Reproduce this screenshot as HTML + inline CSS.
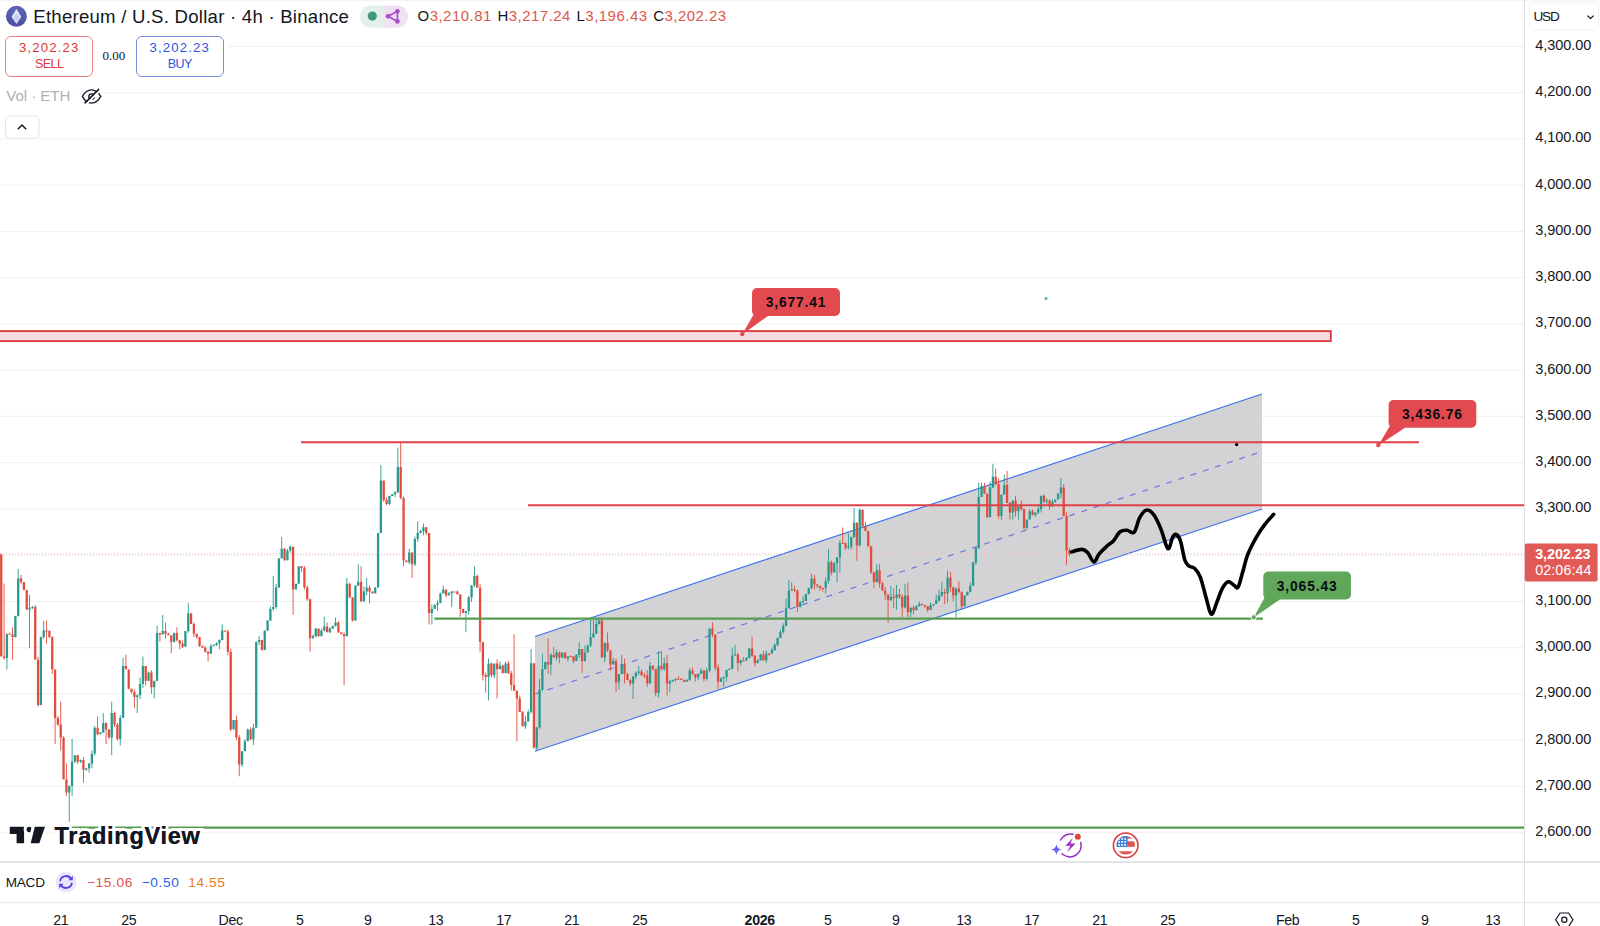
<!DOCTYPE html>
<html><head><meta charset="utf-8"><title>ETHUSD</title>
<style>
html,body{margin:0;padding:0;background:#fff;}
body{width:1600px;height:926px;position:relative;overflow:hidden;font-family:"Liberation Sans",sans-serif;color:#131722;}
svg{position:absolute;left:0;top:0;}
.abs{position:absolute;white-space:nowrap;}
.pl{position:absolute;left:1535.3px;font-size:14.5px;line-height:16px;letter-spacing:-0.05px;color:#131722;white-space:nowrap;}
.tl{position:absolute;top:911.6px;width:60px;text-align:center;font-size:14.2px;line-height:16px;letter-spacing:-0.35px;color:#131722;white-space:nowrap;}
.btn{position:absolute;top:35.5px;height:39px;width:86px;border-radius:6px;box-sizing:content-box;background:#fff;text-align:center;}
.btn .p{position:absolute;left:0;right:0;top:3.3px;font-size:13.2px;line-height:16px;letter-spacing:1.15px;}
.btn .s{position:absolute;left:0;right:0;top:19.8px;font-size:12.6px;line-height:16px;letter-spacing:-0.55px;}
.lbl{position:absolute;font-size:13.8px;font-weight:bold;line-height:16px;letter-spacing:0.88px;color:#0b0d12;text-align:center;white-space:nowrap;}
</style></head><body>
<svg width="1600" height="926" viewBox="0 0 1600 926">
<rect width="1600" height="926" fill="#fff"/><rect width="1600" height="1.3" fill="#f5f5f6"/>
<rect x="0" y="45.90" width="1524" height="1" fill="#f1f2f4"/><rect x="0" y="92.15" width="1524" height="1" fill="#f1f2f4"/><rect x="0" y="138.40" width="1524" height="1" fill="#f1f2f4"/><rect x="0" y="184.65" width="1524" height="1" fill="#f1f2f4"/><rect x="0" y="230.90" width="1524" height="1" fill="#f1f2f4"/><rect x="0" y="277.15" width="1524" height="1" fill="#f1f2f4"/><rect x="0" y="323.40" width="1524" height="1" fill="#f1f2f4"/><rect x="0" y="369.65" width="1524" height="1" fill="#f1f2f4"/><rect x="0" y="415.90" width="1524" height="1" fill="#f1f2f4"/><rect x="0" y="462.15" width="1524" height="1" fill="#f1f2f4"/><rect x="0" y="508.40" width="1524" height="1" fill="#f1f2f4"/><rect x="0" y="554.65" width="1524" height="1" fill="#f1f2f4"/><rect x="0" y="600.90" width="1524" height="1" fill="#f1f2f4"/><rect x="0" y="647.15" width="1524" height="1" fill="#f1f2f4"/><rect x="0" y="693.40" width="1524" height="1" fill="#f1f2f4"/><rect x="0" y="739.65" width="1524" height="1" fill="#f1f2f4"/><rect x="0" y="785.90" width="1524" height="1" fill="#f1f2f4"/><rect x="0" y="832.15" width="1524" height="1" fill="#f1f2f4"/>
<!-- channel -->
<polygon points="535,636.5 1262,394 1262,509 535,751.2" fill="#d3d3d4"/>
<g opacity="0.3"><rect x="0" y="45.90" width="1524" height="1" fill="#f1f2f4"/><rect x="0" y="92.15" width="1524" height="1" fill="#f1f2f4"/><rect x="0" y="138.40" width="1524" height="1" fill="#f1f2f4"/><rect x="0" y="184.65" width="1524" height="1" fill="#f1f2f4"/><rect x="0" y="230.90" width="1524" height="1" fill="#f1f2f4"/><rect x="0" y="277.15" width="1524" height="1" fill="#f1f2f4"/><rect x="0" y="323.40" width="1524" height="1" fill="#f1f2f4"/><rect x="0" y="369.65" width="1524" height="1" fill="#f1f2f4"/><rect x="0" y="415.90" width="1524" height="1" fill="#f1f2f4"/><rect x="0" y="462.15" width="1524" height="1" fill="#f1f2f4"/><rect x="0" y="508.40" width="1524" height="1" fill="#f1f2f4"/><rect x="0" y="554.65" width="1524" height="1" fill="#f1f2f4"/><rect x="0" y="600.90" width="1524" height="1" fill="#f1f2f4"/><rect x="0" y="647.15" width="1524" height="1" fill="#f1f2f4"/><rect x="0" y="693.40" width="1524" height="1" fill="#f1f2f4"/><rect x="0" y="739.65" width="1524" height="1" fill="#f1f2f4"/><rect x="0" y="785.90" width="1524" height="1" fill="#f1f2f4"/><rect x="0" y="832.15" width="1524" height="1" fill="#f1f2f4"/></g>
<polygon points="535,636.5 1262,394 1262,509 535,751.2" fill="#d3d3d4" opacity="0.8"/>
<line x1="535" y1="694" x2="1262" y2="451.5" stroke="#7479e4" stroke-width="1.25" stroke-dasharray="6 6.8"/>
<line x1="535" y1="636.5" x2="1262" y2="394" stroke="#3f74e8" stroke-width="1.2"/>
<line x1="535" y1="751.2" x2="1262" y2="509" stroke="#3f74e8" stroke-width="1.2"/>
<!-- current price dotted -->
<line x1="0" y1="553.7" x2="1524" y2="553.7" stroke="#f0b3ae" stroke-width="1" stroke-dasharray="1 2"/>
<path fill="#28998d" d="M6.45 633.7h.9V669.4h-.9ZM5.75 633.7h2.3v24.3h-2.3ZM14.95 615.7h.9V637.5h-.9ZM14.25 615.9h2.3v21.1h-2.3ZM17.78 568.9h.9V616.5h-.9ZM17.08 578.6h2.3v37.3h-2.3ZM29.12 594.8h.9V648.3h-.9ZM28.42 607.8h2.3v1.6h-2.3ZM31.95 605.9h.9V608.9h-.9ZM31.25 607.1h2.3v1.0h-2.3ZM40.45 636.7h.9V705.5h-.9ZM39.75 637.0h2.3v68.1h-2.3ZM43.28 620.8h.9V638.7h-.9ZM42.58 630.5h2.3v6.5h-2.3ZM68.78 785.6h.9V821.7h-.9ZM68.08 786.1h2.3v6.5h-2.3ZM71.62 739.1h.9V795.8h-.9ZM70.92 761.8h2.3v24.3h-2.3ZM74.45 755.0h.9V763.0h-.9ZM73.75 755.3h2.3v6.5h-2.3ZM80.12 759.5h.9V763.0h-.9ZM79.42 760.1h2.3v1.6h-2.3ZM85.78 768.2h.9V770.8h-.9ZM85.08 768.2h2.3v1.6h-2.3ZM88.62 763.0h.9V772.5h-.9ZM87.92 763.4h2.3v4.9h-2.3ZM91.45 750.2h.9V768.3h-.9ZM90.75 753.7h2.3v9.7h-2.3ZM94.28 726.3h.9V755.7h-.9ZM93.58 727.7h2.3v25.9h-2.3ZM99.95 732.1h.9V734.2h-.9ZM99.25 732.6h2.3v1.6h-2.3ZM102.78 713.1h.9V732.9h-.9ZM102.08 722.9h2.3v9.7h-2.3ZM111.28 701.8h.9V755.3h-.9ZM110.58 713.1h2.3v24.3h-2.3ZM119.78 715.1h.9V745.6h-.9ZM119.08 718.0h2.3v21.1h-2.3ZM122.62 658.0h.9V718.1h-.9ZM121.92 666.1h2.3v51.9h-2.3ZM136.78 694.6h.9V713.1h-.9ZM136.08 695.3h2.3v1.6h-2.3ZM139.62 677.5h.9V699.1h-.9ZM138.92 684.0h2.3v11.3h-2.3ZM142.45 656.4h.9V688.0h-.9ZM141.75 666.1h2.3v17.8h-2.3ZM148.12 671.4h.9V681.0h-.9ZM147.42 672.6h2.3v8.1h-2.3ZM153.78 680.7h.9V698.6h-.9ZM153.08 680.7h2.3v6.5h-2.3ZM156.62 625.6h.9V681.2h-.9ZM155.92 633.1h2.3v47.6h-2.3ZM162.28 614.9h.9V634.4h-.9ZM161.58 631.1h2.3v3.2h-2.3ZM173.62 632.5h.9V642.5h-.9ZM172.92 633.1h2.3v8.8h-2.3ZM184.95 631.0h.9V646.7h-.9ZM184.25 631.1h2.3v15.6h-2.3ZM187.78 602.9h.9V632.7h-.9ZM187.08 613.6h2.3v17.5h-2.3ZM210.45 643.7h.9V653.9h-.9ZM209.75 646.0h2.3v7.8h-2.3ZM213.28 644.1h.9V646.0h-.9ZM212.58 645.2h2.3v1.0h-2.3ZM216.12 642.3h.9V645.9h-.9ZM215.42 643.2h2.3v2.0h-2.3ZM218.95 639.2h.9V649.2h-.9ZM218.25 640.1h2.3v3.1h-2.3ZM221.78 624.6h.9V640.3h-.9ZM221.08 630.4h2.3v9.7h-2.3ZM233.12 719.9h.9V729.6h-.9ZM232.42 719.9h2.3v9.7h-2.3ZM241.62 751.1h.9V767.0h-.9ZM240.92 751.2h2.3v13.4h-2.3ZM244.45 739.1h.9V751.2h-.9ZM243.75 741.3h2.3v10.0h-2.3ZM247.28 728.6h.9V741.3h-.9ZM246.58 729.6h2.3v11.7h-2.3ZM252.95 723.7h.9V745.0h-.9ZM252.25 727.7h2.3v11.7h-2.3ZM255.78 641.5h.9V727.7h-.9ZM255.08 642.1h2.3v85.6h-2.3ZM258.62 636.2h.9V645.1h-.9ZM257.92 640.1h2.3v1.9h-2.3ZM264.28 630.4h.9V650.1h-.9ZM263.58 630.4h2.3v19.5h-2.3ZM267.12 619.9h.9V630.9h-.9ZM266.42 620.7h2.3v9.7h-2.3ZM269.95 606.5h.9V620.7h-.9ZM269.25 609.0h2.3v11.7h-2.3ZM272.78 575.9h.9V610.8h-.9ZM272.08 607.0h2.3v1.9h-2.3ZM275.62 584.1h.9V608.7h-.9ZM274.92 587.6h2.3v19.5h-2.3ZM278.45 557.9h.9V588.1h-.9ZM277.75 558.4h2.3v29.2h-2.3ZM281.28 537.0h.9V558.4h-.9ZM280.58 548.7h2.3v9.7h-2.3ZM286.95 548.8h.9V560.4h-.9ZM286.25 550.6h2.3v9.7h-2.3ZM289.78 545.4h.9V552.8h-.9ZM289.08 546.7h2.3v3.9h-2.3ZM295.45 583.7h.9V589.6h-.9ZM294.75 583.7h2.3v5.8h-2.3ZM298.28 566.2h.9V583.8h-.9ZM297.58 566.2h2.3v17.5h-2.3ZM312.45 634.4h.9V639.0h-.9ZM311.75 636.2h2.3v1.9h-2.3ZM315.28 628.0h.9V637.6h-.9ZM314.58 628.4h2.3v7.8h-2.3ZM320.95 628.6h.9V636.2h-.9ZM320.25 630.4h2.3v5.8h-2.3ZM323.78 616.8h.9V631.3h-.9ZM323.08 626.5h2.3v3.9h-2.3ZM329.45 627.5h.9V633.1h-.9ZM328.75 628.4h2.3v3.9h-2.3ZM332.28 625.7h.9V628.9h-.9ZM331.58 625.7h2.3v2.8h-2.3ZM335.12 617.6h.9V626.4h-.9ZM334.42 622.6h2.3v3.1h-2.3ZM346.45 577.9h.9V636.3h-.9ZM345.75 583.7h2.3v52.5h-2.3ZM354.95 585.6h.9V620.7h-.9ZM354.25 585.6h2.3v35.0h-2.3ZM357.78 564.2h.9V585.9h-.9ZM357.08 581.8h2.3v3.9h-2.3ZM363.45 586.6h.9V602.0h-.9ZM362.75 591.5h2.3v9.7h-2.3ZM366.28 577.9h.9V595.2h-.9ZM365.58 587.6h2.3v3.9h-2.3ZM374.78 587.2h.9V593.4h-.9ZM374.08 587.6h2.3v5.8h-2.3ZM377.62 533.1h.9V587.8h-.9ZM376.92 533.1h2.3v54.5h-2.3ZM380.45 465.0h.9V533.2h-.9ZM379.75 480.6h2.3v52.5h-2.3ZM388.95 496.1h.9V504.9h-.9ZM388.25 496.1h2.3v7.8h-2.3ZM391.78 493.9h.9V496.3h-.9ZM391.08 494.2h2.3v1.9h-2.3ZM394.62 491.0h.9V497.2h-.9ZM393.92 492.3h2.3v1.9h-2.3ZM397.45 447.5h.9V493.1h-.9ZM396.75 467.0h2.3v25.3h-2.3ZM408.78 548.7h.9V564.2h-.9ZM408.08 552.6h2.3v9.7h-2.3ZM414.45 536.4h.9V565.9h-.9ZM413.75 538.9h2.3v25.3h-2.3ZM417.28 521.4h.9V541.9h-.9ZM416.58 533.1h2.3v5.8h-2.3ZM420.12 529.8h.9V533.5h-.9ZM419.42 531.2h2.3v1.9h-2.3ZM422.95 523.4h.9V535.5h-.9ZM422.25 527.3h2.3v3.9h-2.3ZM431.45 604.5h.9V624.6h-.9ZM430.75 609.0h2.3v3.9h-2.3ZM434.28 604.2h.9V609.0h-.9ZM433.58 605.1h2.3v3.9h-2.3ZM437.12 600.5h.9V610.9h-.9ZM436.42 603.2h2.3v1.9h-2.3ZM439.95 592.5h.9V603.2h-.9ZM439.25 593.4h2.3v9.7h-2.3ZM442.78 585.6h.9V593.6h-.9ZM442.08 589.5h2.3v3.9h-2.3ZM448.45 592.1h.9V595.4h-.9ZM447.75 593.4h2.3v1.9h-2.3ZM451.28 591.0h.9V607.0h-.9ZM450.58 591.5h2.3v1.9h-2.3ZM465.45 610.9h.9V632.3h-.9ZM464.75 610.9h2.3v1.9h-2.3ZM468.28 595.9h.9V614.8h-.9ZM467.58 597.3h2.3v13.6h-2.3ZM471.12 585.0h.9V602.0h-.9ZM470.42 585.6h2.3v11.7h-2.3ZM473.95 566.2h.9V587.2h-.9ZM473.25 575.9h2.3v9.7h-2.3ZM488.12 658.6h.9V700.4h-.9ZM487.42 663.5h2.3v13.6h-2.3ZM493.78 663.5h.9V678.3h-.9ZM493.08 663.5h2.3v11.7h-2.3ZM499.45 661.6h.9V669.3h-.9ZM498.75 665.4h2.3v3.9h-2.3ZM505.12 661.8h.9V673.3h-.9ZM504.42 663.5h2.3v9.7h-2.3ZM524.95 715.7h.9V728.8h-.9ZM524.25 721.5h2.3v4.8h-2.3ZM527.78 709.6h.9V721.5h-.9ZM527.08 712.0h2.3v9.5h-2.3ZM530.62 649.1h.9V713.7h-.9ZM529.92 663.3h2.3v48.7h-2.3ZM536.28 726.9h.9V750.0h-.9ZM535.58 727.5h2.3v20.2h-2.3ZM539.12 678.8h.9V728.8h-.9ZM538.42 689.5h2.3v38.0h-2.3ZM541.95 653.8h.9V691.3h-.9ZM541.25 669.3h2.3v20.2h-2.3ZM544.78 661.6h.9V669.4h-.9ZM544.08 662.1h2.3v7.1h-2.3ZM550.45 653.1h.9V675.2h-.9ZM549.75 655.0h2.3v9.5h-2.3ZM556.12 649.7h.9V660.5h-.9ZM555.42 652.6h2.3v4.8h-2.3ZM561.78 652.6h.9V658.2h-.9ZM561.08 652.6h2.3v4.8h-2.3ZM567.45 656.2h.9V661.6h-.9ZM566.75 656.2h2.3v2.4h-2.3ZM575.95 654.0h.9V661.2h-.9ZM575.25 655.0h2.3v5.9h-2.3ZM578.78 641.9h.9V658.1h-.9ZM578.08 649.1h2.3v5.9h-2.3ZM584.45 645.5h.9V661.4h-.9ZM583.75 652.6h2.3v8.3h-2.3ZM587.28 644.3h.9V652.6h-.9ZM586.58 645.5h2.3v7.1h-2.3ZM590.12 619.4h.9V647.6h-.9ZM589.42 637.2h2.3v8.3h-2.3ZM592.95 619.4h.9V638.1h-.9ZM592.25 633.6h2.3v3.6h-2.3ZM595.78 619.4h.9V634.1h-.9ZM595.08 624.1h2.3v9.5h-2.3ZM598.62 619.6h.9V624.1h-.9ZM597.92 620.6h2.3v3.6h-2.3ZM604.28 642.4h.9V662.1h-.9ZM603.58 643.1h2.3v14.3h-2.3ZM612.78 658.0h.9V664.8h-.9ZM612.08 661.0h2.3v3.6h-2.3ZM618.45 674.0h.9V689.5h-.9ZM617.75 674.0h2.3v8.3h-2.3ZM621.28 655.0h.9V674.0h-.9ZM620.58 664.5h2.3v9.5h-2.3ZM632.62 676.0h.9V699.0h-.9ZM631.92 676.4h2.3v7.1h-2.3ZM635.45 671.3h.9V679.0h-.9ZM634.75 672.8h2.3v3.6h-2.3ZM638.28 665.7h.9V675.2h-.9ZM637.58 671.6h2.3v1.2h-2.3ZM649.62 662.1h.9V683.7h-.9ZM648.92 665.7h2.3v17.8h-2.3ZM658.12 651.4h.9V697.4h-.9ZM657.42 665.7h2.3v27.3h-2.3ZM663.78 657.4h.9V670.7h-.9ZM663.08 663.3h2.3v5.9h-2.3ZM669.45 679.5h.9V691.8h-.9ZM668.75 681.1h2.3v2.4h-2.3ZM672.28 679.6h.9V682.1h-.9ZM671.58 680.0h2.3v1.2h-2.3ZM675.12 678.3h.9V681.6h-.9ZM674.42 678.8h2.3v1.2h-2.3ZM686.45 679.1h.9V681.6h-.9ZM685.75 680.0h2.3v1.7h-2.3ZM689.28 668.1h.9V681.1h-.9ZM688.58 670.5h2.3v9.5h-2.3ZM697.78 673.3h.9V680.1h-.9ZM697.08 674.0h2.3v3.6h-2.3ZM700.62 668.1h.9V674.1h-.9ZM699.92 670.5h2.3v3.6h-2.3ZM706.28 668.1h.9V680.5h-.9ZM705.58 670.5h2.3v8.3h-2.3ZM709.12 628.5h.9V672.6h-.9ZM708.42 628.5h2.3v42.0h-2.3ZM720.45 677.6h.9V681.9h-.9ZM719.75 678.3h2.3v3.6h-2.3ZM723.28 676.6h.9V686.7h-.9ZM722.58 677.1h2.3v1.2h-2.3ZM726.12 669.4h.9V681.4h-.9ZM725.42 670.0h2.3v7.1h-2.3ZM728.95 668.6h.9V670.0h-.9ZM728.25 668.8h2.3v1.2h-2.3ZM731.78 647.5h.9V669.1h-.9ZM731.08 655.8h2.3v13.1h-2.3ZM734.62 645.1h.9V655.8h-.9ZM733.92 654.6h2.3v1.2h-2.3ZM740.28 659.0h.9V665.5h-.9ZM739.58 660.5h2.3v2.4h-2.3ZM745.95 657.1h.9V661.3h-.9ZM745.25 658.1h2.3v2.4h-2.3ZM748.78 648.2h.9V658.2h-.9ZM748.08 648.6h2.3v9.5h-2.3ZM757.28 659.2h.9V663.4h-.9ZM756.58 660.5h2.3v2.4h-2.3ZM760.12 654.0h.9V660.5h-.9ZM759.42 654.6h2.3v5.9h-2.3ZM765.78 650.7h.9V663.0h-.9ZM765.08 653.4h2.3v7.1h-2.3ZM771.45 647.5h.9V653.9h-.9ZM770.75 649.8h2.3v3.6h-2.3ZM774.28 643.1h.9V650.9h-.9ZM773.58 645.1h2.3v4.8h-2.3ZM777.12 637.4h.9V646.6h-.9ZM776.42 638.0h2.3v7.1h-2.3ZM779.95 629.6h.9V638.2h-.9ZM779.25 632.0h2.3v5.9h-2.3ZM782.78 623.2h.9V633.6h-.9ZM782.08 626.1h2.3v5.9h-2.3ZM785.62 598.8h.9V626.3h-.9ZM784.92 608.3h2.3v17.8h-2.3ZM788.45 579.8h.9V608.5h-.9ZM787.75 590.5h2.3v17.8h-2.3ZM791.28 582.1h.9V590.7h-.9ZM790.58 589.3h2.3v1.2h-2.3ZM799.78 601.1h.9V607.4h-.9ZM799.08 602.3h2.3v4.8h-2.3ZM802.62 596.4h.9V602.9h-.9ZM801.92 601.1h2.3v1.2h-2.3ZM805.45 593.9h.9V601.1h-.9ZM804.75 594.0h2.3v7.1h-2.3ZM808.28 587.7h.9V594.4h-.9ZM807.58 588.1h2.3v5.9h-2.3ZM811.12 573.8h.9V589.4h-.9ZM810.42 578.6h2.3v9.5h-2.3ZM825.28 577.4h.9V593.7h-.9ZM824.58 581.0h2.3v7.1h-2.3ZM828.12 548.9h.9V583.8h-.9ZM827.42 561.9h2.3v19.0h-2.3ZM833.78 562.3h.9V572.6h-.9ZM833.08 563.1h2.3v9.5h-2.3ZM836.62 557.0h.9V582.1h-.9ZM835.92 557.2h2.3v5.9h-2.3ZM839.45 540.1h.9V572.6h-.9ZM838.75 542.9h2.3v14.3h-2.3ZM847.95 533.4h.9V549.3h-.9ZM847.25 546.5h2.3v1.2h-2.3ZM850.78 536.7h.9V549.3h-.9ZM850.08 537.0h2.3v9.5h-2.3ZM853.62 508.0h.9V538.1h-.9ZM852.92 522.8h2.3v14.3h-2.3ZM859.28 508.5h.9V546.8h-.9ZM858.58 509.7h2.3v35.6h-2.3ZM876.28 564.3h.9V582.3h-.9ZM875.58 570.3h2.3v11.9h-2.3ZM890.45 586.1h.9V600.4h-.9ZM889.75 596.8h2.3v3.6h-2.3ZM896.12 584.9h.9V609.8h-.9ZM895.42 594.4h2.3v3.6h-2.3ZM904.62 583.7h.9V608.4h-.9ZM903.92 595.6h2.3v11.9h-2.3ZM910.28 607.4h.9V617.0h-.9ZM909.58 607.5h2.3v4.8h-2.3ZM915.95 605.3h.9V610.8h-.9ZM915.25 606.3h2.3v3.6h-2.3ZM918.78 601.5h.9V606.6h-.9ZM918.08 603.9h2.3v2.4h-2.3ZM930.12 602.4h.9V609.8h-.9ZM929.42 605.1h2.3v4.8h-2.3ZM932.95 603.9h.9V606.6h-.9ZM932.25 603.9h2.3v1.2h-2.3ZM935.78 594.5h.9V604.1h-.9ZM935.08 600.3h2.3v3.6h-2.3ZM938.62 589.6h.9V601.7h-.9ZM937.92 595.6h2.3v4.8h-2.3ZM941.45 581.3h.9V597.0h-.9ZM940.75 592.0h2.3v3.6h-2.3ZM947.12 570.6h.9V602.7h-.9ZM946.42 577.8h2.3v15.4h-2.3ZM955.62 587.4h.9V617.0h-.9ZM954.92 588.5h2.3v7.1h-2.3ZM964.12 595.3h.9V606.6h-.9ZM963.42 595.6h2.3v10.7h-2.3ZM966.95 591.3h.9V595.6h-.9ZM966.25 592.0h2.3v3.6h-2.3ZM969.78 582.5h.9V592.5h-.9ZM969.08 586.1h2.3v5.9h-2.3ZM972.62 561.7h.9V586.1h-.9ZM971.92 562.3h2.3v23.8h-2.3ZM975.45 548.1h.9V565.0h-.9ZM974.75 548.1h2.3v14.3h-2.3ZM978.28 482.8h.9V548.9h-.9ZM977.58 497.0h2.3v51.1h-2.3ZM981.12 482.8h.9V497.1h-.9ZM980.42 486.3h2.3v10.7h-2.3ZM989.62 481.6h.9V517.2h-.9ZM988.92 487.5h2.3v29.7h-2.3ZM992.45 463.8h.9V488.0h-.9ZM991.75 476.8h2.3v10.7h-2.3ZM1000.95 494.6h.9V519.7h-.9ZM1000.25 494.6h2.3v21.4h-2.3ZM1003.78 474.4h.9V494.7h-.9ZM1003.08 485.1h2.3v9.5h-2.3ZM1012.28 500.6h.9V519.6h-.9ZM1011.58 500.6h2.3v11.9h-2.3ZM1017.95 505.3h.9V519.6h-.9ZM1017.25 505.3h2.3v5.9h-2.3ZM1026.45 519.6h.9V529.5h-.9ZM1025.75 519.6h2.3v8.3h-2.3ZM1029.28 508.9h.9V519.6h-.9ZM1028.58 511.3h2.3v8.3h-2.3ZM1034.95 512.4h.9V516.9h-.9ZM1034.25 512.4h2.3v2.4h-2.3ZM1037.78 505.9h.9V514.3h-.9ZM1037.08 508.9h2.3v3.6h-2.3ZM1040.62 495.8h.9V512.4h-.9ZM1039.92 495.8h2.3v13.1h-2.3ZM1046.28 498.2h.9V503.9h-.9ZM1045.58 500.6h2.3v1.2h-2.3ZM1051.95 499.1h.9V506.8h-.9ZM1051.25 501.8h2.3v4.8h-2.3ZM1054.78 499.4h.9V502.7h-.9ZM1054.08 499.4h2.3v2.4h-2.3ZM1057.62 493.3h.9V499.4h-.9ZM1056.92 493.4h2.3v5.9h-2.3ZM1060.45 478.0h.9V498.3h-.9ZM1059.75 487.5h2.3v5.9h-2.3Z"/><path fill="#e34c3d" d="M0.78 554.3h.9V656.4h-.9ZM0.08 554.3h2.3v102.1h-2.3ZM3.62 583.5h.9V659.7h-.9ZM2.92 656.4h2.3v1.6h-2.3ZM9.28 632.5h.9V634.7h-.9ZM8.58 633.7h2.3v1.0h-2.3ZM12.12 627.2h.9V659.7h-.9ZM11.42 634.6h2.3v2.3h-2.3ZM20.62 574.8h.9V584.2h-.9ZM19.92 578.6h2.3v3.2h-2.3ZM23.45 581.9h.9V590.0h-.9ZM22.75 581.9h2.3v8.1h-2.3ZM26.28 589.7h.9V610.0h-.9ZM25.58 590.0h2.3v19.4h-2.3ZM34.78 604.9h.9V660.0h-.9ZM34.08 607.1h2.3v52.5h-2.3ZM37.62 656.8h.9V706.7h-.9ZM36.92 659.7h2.3v45.4h-2.3ZM46.12 620.8h.9V643.5h-.9ZM45.42 630.5h2.3v1.0h-2.3ZM48.95 630.2h.9V638.1h-.9ZM48.25 631.1h2.3v5.8h-2.3ZM51.78 636.2h.9V674.1h-.9ZM51.08 637.0h2.3v32.4h-2.3ZM54.62 669.4h.9V743.9h-.9ZM53.92 669.4h2.3v48.6h-2.3ZM57.45 716.0h.9V725.9h-.9ZM56.75 718.0h2.3v6.5h-2.3ZM60.28 701.8h.9V750.4h-.9ZM59.58 724.5h2.3v13.0h-2.3ZM63.12 736.2h.9V779.6h-.9ZM62.42 737.5h2.3v42.1h-2.3ZM65.95 763.4h.9V795.8h-.9ZM65.25 779.6h2.3v13.0h-2.3ZM77.28 754.8h.9V764.1h-.9ZM76.58 755.3h2.3v6.5h-2.3ZM82.95 757.0h.9V782.8h-.9ZM82.25 760.1h2.3v9.7h-2.3ZM97.12 716.4h.9V735.3h-.9ZM96.42 727.7h2.3v6.5h-2.3ZM105.62 722.5h.9V743.9h-.9ZM104.92 722.9h2.3v6.5h-2.3ZM108.45 729.1h.9V738.7h-.9ZM107.75 729.4h2.3v8.1h-2.3ZM114.12 711.4h.9V727.1h-.9ZM113.42 713.1h2.3v11.3h-2.3ZM116.95 723.1h.9V740.4h-.9ZM116.25 724.5h2.3v14.6h-2.3ZM125.45 654.8h.9V669.6h-.9ZM124.75 666.1h2.3v3.2h-2.3ZM128.28 669.4h.9V689.6h-.9ZM127.58 669.4h2.3v19.4h-2.3ZM131.12 688.8h.9V693.7h-.9ZM130.42 688.8h2.3v3.2h-2.3ZM133.95 689.8h.9V708.3h-.9ZM133.25 692.1h2.3v4.9h-2.3ZM145.28 666.1h.9V685.5h-.9ZM144.58 666.1h2.3v14.6h-2.3ZM150.95 670.2h.9V693.7h-.9ZM150.25 672.6h2.3v14.6h-2.3ZM159.45 633.1h.9V641.8h-.9ZM158.75 633.1h2.3v1.3h-2.3ZM165.12 622.4h.9V638.6h-.9ZM164.42 631.1h2.3v2.6h-2.3ZM167.95 633.1h.9V635.3h-.9ZM167.25 633.7h2.3v1.6h-2.3ZM170.78 635.2h.9V653.2h-.9ZM170.08 635.3h2.3v6.5h-2.3ZM176.45 627.2h.9V641.4h-.9ZM175.75 633.1h2.3v7.1h-2.3ZM179.28 639.8h.9V649.3h-.9ZM178.58 640.2h2.3v3.2h-2.3ZM182.12 640.5h.9V648.1h-.9ZM181.42 643.5h2.3v3.2h-2.3ZM190.62 612.7h.9V624.0h-.9ZM189.92 613.6h2.3v10.4h-2.3ZM193.45 622.6h.9V637.0h-.9ZM192.75 624.0h2.3v9.7h-2.3ZM196.28 633.7h.9V638.9h-.9ZM195.58 633.7h2.3v3.2h-2.3ZM199.12 637.0h.9V647.0h-.9ZM198.42 637.0h2.3v9.0h-2.3ZM201.95 645.6h.9V648.0h-.9ZM201.25 646.0h2.3v1.5h-2.3ZM204.78 646.2h.9V652.4h-.9ZM204.08 647.5h2.3v4.3h-2.3ZM207.62 651.0h.9V661.5h-.9ZM206.92 651.8h2.3v1.9h-2.3ZM224.62 630.4h.9V631.9h-.9ZM223.92 630.4h2.3v1.2h-2.3ZM227.45 629.7h.9V655.2h-.9ZM226.75 631.6h2.3v20.2h-2.3ZM230.28 649.1h.9V731.2h-.9ZM229.58 651.8h2.3v77.8h-2.3ZM235.95 715.4h.9V740.1h-.9ZM235.25 719.9h2.3v17.5h-2.3ZM238.78 735.0h.9V776.3h-.9ZM238.08 737.4h2.3v27.2h-2.3ZM250.12 727.2h.9V740.0h-.9ZM249.42 729.6h2.3v9.7h-2.3ZM261.45 639.7h.9V650.7h-.9ZM260.75 640.1h2.3v9.7h-2.3ZM284.12 548.1h.9V560.5h-.9ZM283.42 548.7h2.3v11.7h-2.3ZM292.62 546.7h.9V614.8h-.9ZM291.92 546.7h2.3v42.8h-2.3ZM301.12 566.2h.9V572.0h-.9ZM300.42 566.2h2.3v1.9h-2.3ZM303.95 566.1h.9V589.3h-.9ZM303.25 568.1h2.3v19.5h-2.3ZM306.78 585.5h.9V600.8h-.9ZM306.08 587.6h2.3v11.7h-2.3ZM309.62 598.6h.9V651.8h-.9ZM308.92 599.3h2.3v38.9h-2.3ZM318.12 628.4h.9V636.4h-.9ZM317.42 628.4h2.3v7.8h-2.3ZM326.62 622.5h.9V632.6h-.9ZM325.92 626.5h2.3v5.8h-2.3ZM337.95 621.0h.9V632.9h-.9ZM337.25 622.6h2.3v9.7h-2.3ZM340.78 632.2h.9V634.3h-.9ZM340.08 632.3h2.3v1.9h-2.3ZM343.62 632.4h.9V684.9h-.9ZM342.92 634.3h2.3v1.9h-2.3ZM349.28 582.7h.9V598.3h-.9ZM348.58 583.7h2.3v13.6h-2.3ZM352.12 597.3h.9V621.6h-.9ZM351.42 597.3h2.3v23.3h-2.3ZM360.62 566.2h.9V602.0h-.9ZM359.92 581.8h2.3v19.5h-2.3ZM369.12 585.6h.9V603.2h-.9ZM368.42 587.6h2.3v3.9h-2.3ZM371.95 591.3h.9V593.4h-.9ZM371.25 591.5h2.3v1.9h-2.3ZM383.28 480.6h.9V502.0h-.9ZM382.58 480.6h2.3v19.5h-2.3ZM386.12 497.3h.9V505.2h-.9ZM385.42 500.0h2.3v3.9h-2.3ZM400.28 441.7h.9V499.2h-.9ZM399.58 467.0h2.3v31.1h-2.3ZM403.12 496.5h.9V566.2h-.9ZM402.42 498.1h2.3v62.3h-2.3ZM405.95 560.3h.9V562.3h-.9ZM405.25 560.4h2.3v1.9h-2.3ZM411.62 552.2h.9V577.9h-.9ZM410.92 552.6h2.3v11.7h-2.3ZM425.78 526.9h.9V535.1h-.9ZM425.08 527.3h2.3v5.8h-2.3ZM428.62 533.1h.9V624.6h-.9ZM427.92 533.1h2.3v79.8h-2.3ZM445.62 589.5h.9V597.3h-.9ZM444.92 589.5h2.3v5.8h-2.3ZM454.12 591.5h.9V591.7h-.9ZM453.42 591.5h2.3v1.0h-2.3ZM456.95 590.5h.9V594.5h-.9ZM456.25 591.5h2.3v2.7h-2.3ZM459.78 594.2h.9V616.8h-.9ZM459.08 594.2h2.3v14.8h-2.3ZM462.62 609.0h.9V613.0h-.9ZM461.92 609.0h2.3v3.9h-2.3ZM476.78 574.5h.9V588.0h-.9ZM476.08 575.9h2.3v11.7h-2.3ZM479.62 583.9h.9V651.8h-.9ZM478.92 587.6h2.3v54.5h-2.3ZM482.45 642.0h.9V680.5h-.9ZM481.75 642.1h2.3v33.1h-2.3ZM485.28 672.6h.9V692.6h-.9ZM484.58 675.1h2.3v1.9h-2.3ZM490.95 662.6h.9V677.4h-.9ZM490.25 663.5h2.3v11.7h-2.3ZM496.62 659.4h.9V698.5h-.9ZM495.92 663.5h2.3v5.8h-2.3ZM502.28 664.8h.9V673.2h-.9ZM501.58 665.4h2.3v7.8h-2.3ZM507.95 660.7h.9V674.0h-.9ZM507.25 663.5h2.3v9.7h-2.3ZM510.78 670.8h.9V690.5h-.9ZM510.08 673.2h2.3v11.7h-2.3ZM513.62 634.3h.9V691.1h-.9ZM512.92 684.9h2.3v5.8h-2.3ZM516.45 690.4h.9V741.3h-.9ZM515.75 690.7h2.3v7.8h-2.3ZM519.28 695.6h.9V711.8h-.9ZM518.58 698.5h2.3v13.4h-2.3ZM522.12 711.1h.9V726.5h-.9ZM521.42 711.8h2.3v14.4h-2.3ZM533.45 663.3h.9V748.8h-.9ZM532.75 663.3h2.3v84.3h-2.3ZM547.62 638.4h.9V674.0h-.9ZM546.92 662.1h2.3v2.4h-2.3ZM553.28 646.7h.9V657.4h-.9ZM552.58 655.0h2.3v2.4h-2.3ZM558.95 651.2h.9V663.3h-.9ZM558.25 652.6h2.3v4.8h-2.3ZM564.62 652.6h.9V658.6h-.9ZM563.92 652.6h2.3v5.9h-2.3ZM570.28 655.6h.9V656.3h-.9ZM569.58 656.2h2.3v1.0h-2.3ZM573.12 656.2h.9V663.3h-.9ZM572.42 656.2h2.3v4.8h-2.3ZM581.62 649.1h.9V672.8h-.9ZM580.92 649.1h2.3v11.9h-2.3ZM601.45 618.9h.9V657.4h-.9ZM600.75 620.6h2.3v36.8h-2.3ZM607.12 632.4h.9V652.0h-.9ZM606.42 643.1h2.3v7.1h-2.3ZM609.95 650.1h.9V670.5h-.9ZM609.25 650.3h2.3v14.3h-2.3ZM615.62 658.7h.9V691.8h-.9ZM614.92 661.0h2.3v21.4h-2.3ZM624.12 658.6h.9V683.5h-.9ZM623.42 664.5h2.3v9.5h-2.3ZM626.95 672.7h.9V680.2h-.9ZM626.25 674.0h2.3v5.9h-2.3ZM629.78 679.1h.9V685.9h-.9ZM629.08 680.0h2.3v3.6h-2.3ZM641.12 669.4h.9V675.7h-.9ZM640.42 671.6h2.3v3.6h-2.3ZM643.95 672.7h.9V678.2h-.9ZM643.25 675.2h2.3v1.0h-2.3ZM646.78 670.0h.9V687.1h-.9ZM646.08 675.2h2.3v8.3h-2.3ZM652.45 665.2h.9V670.5h-.9ZM651.75 665.7h2.3v3.6h-2.3ZM655.28 668.7h.9V696.6h-.9ZM654.58 669.3h2.3v23.8h-2.3ZM660.95 652.6h.9V670.8h-.9ZM660.25 665.7h2.3v3.6h-2.3ZM666.62 655.0h.9V695.4h-.9ZM665.92 663.3h2.3v20.2h-2.3ZM677.95 676.0h.9V680.0h-.9ZM677.25 678.8h2.3v1.0h-2.3ZM680.78 678.0h.9V680.0h-.9ZM680.08 678.8h2.3v1.2h-2.3ZM683.62 679.6h.9V682.0h-.9ZM682.92 680.0h2.3v1.7h-2.3ZM692.12 667.3h.9V674.8h-.9ZM691.42 670.5h2.3v3.6h-2.3ZM694.95 674.0h.9V681.4h-.9ZM694.25 674.0h2.3v3.6h-2.3ZM703.45 670.1h.9V681.4h-.9ZM702.75 670.5h2.3v8.3h-2.3ZM711.95 622.5h.9V637.3h-.9ZM711.25 628.5h2.3v5.9h-2.3ZM714.78 634.4h.9V670.4h-.9ZM714.08 634.4h2.3v33.3h-2.3ZM717.62 664.2h.9V689.0h-.9ZM716.92 667.6h2.3v14.3h-2.3ZM737.45 652.7h.9V671.2h-.9ZM736.75 654.6h2.3v8.3h-2.3ZM743.12 657.0h.9V660.5h-.9ZM742.42 660.5h2.3v1.0h-2.3ZM751.62 636.8h.9V657.0h-.9ZM750.92 648.6h2.3v7.1h-2.3ZM754.45 654.9h.9V666.5h-.9ZM753.75 655.8h2.3v7.1h-2.3ZM762.95 650.7h.9V660.5h-.9ZM762.25 654.6h2.3v5.9h-2.3ZM768.62 652.9h.9V656.2h-.9ZM767.92 653.4h2.3v1.0h-2.3ZM794.12 585.7h.9V592.4h-.9ZM793.42 589.3h2.3v1.2h-2.3ZM796.95 589.6h.9V611.8h-.9ZM796.25 590.5h2.3v16.6h-2.3ZM813.95 575.0h.9V589.8h-.9ZM813.25 578.6h2.3v5.9h-2.3ZM816.78 583.8h.9V588.1h-.9ZM816.08 584.5h2.3v1.2h-2.3ZM819.62 585.7h.9V590.5h-.9ZM818.92 585.7h2.3v2.4h-2.3ZM822.45 587.7h.9V591.6h-.9ZM821.75 588.1h2.3v1.0h-2.3ZM830.95 560.6h.9V575.2h-.9ZM830.25 561.9h2.3v10.7h-2.3ZM842.28 527.5h.9V542.9h-.9ZM841.58 542.9h2.3v1.0h-2.3ZM845.12 542.6h.9V550.1h-.9ZM844.42 542.9h2.3v4.8h-2.3ZM856.45 522.2h.9V560.8h-.9ZM855.75 522.8h2.3v22.6h-2.3ZM862.12 509.6h.9V527.1h-.9ZM861.42 509.7h2.3v16.6h-2.3ZM864.95 521.7h.9V531.1h-.9ZM864.25 526.3h2.3v4.8h-2.3ZM867.78 530.9h.9V546.5h-.9ZM867.08 531.1h2.3v15.4h-2.3ZM870.62 546.1h.9V574.0h-.9ZM869.92 546.5h2.3v26.1h-2.3ZM873.45 572.0h.9V588.1h-.9ZM872.75 572.6h2.3v9.5h-2.3ZM879.12 564.3h.9V587.6h-.9ZM878.42 570.3h2.3v13.1h-2.3ZM881.95 581.5h.9V590.8h-.9ZM881.25 583.3h2.3v7.5h-2.3ZM884.78 587.2h.9V600.1h-.9ZM884.08 590.8h2.3v3.6h-2.3ZM887.62 594.4h.9V622.9h-.9ZM886.92 594.4h2.3v5.9h-2.3ZM893.28 588.5h.9V608.6h-.9ZM892.58 596.8h2.3v1.2h-2.3ZM898.95 588.7h.9V599.1h-.9ZM898.25 594.4h2.3v2.4h-2.3ZM901.78 594.3h.9V617.0h-.9ZM901.08 596.8h2.3v10.7h-2.3ZM907.45 582.5h.9V617.0h-.9ZM906.75 595.6h2.3v16.6h-2.3ZM913.12 605.6h.9V614.5h-.9ZM912.42 607.5h2.3v2.4h-2.3ZM921.62 603.5h.9V605.3h-.9ZM920.92 603.9h2.3v1.2h-2.3ZM924.45 605.1h.9V607.9h-.9ZM923.75 605.1h2.3v1.2h-2.3ZM927.28 605.9h.9V612.2h-.9ZM926.58 606.3h2.3v3.6h-2.3ZM944.28 588.6h.9V603.9h-.9ZM943.58 592.0h2.3v1.2h-2.3ZM949.95 571.8h.9V591.8h-.9ZM949.25 577.8h2.3v9.5h-2.3ZM952.78 586.7h.9V601.5h-.9ZM952.08 587.3h2.3v8.3h-2.3ZM958.45 581.3h.9V593.5h-.9ZM957.75 588.5h2.3v3.6h-2.3ZM961.28 591.6h.9V609.8h-.9ZM960.58 592.0h2.3v14.3h-2.3ZM983.95 482.8h.9V493.9h-.9ZM983.25 486.3h2.3v7.1h-2.3ZM986.78 493.4h.9V518.0h-.9ZM986.08 493.4h2.3v23.8h-2.3ZM995.28 468.5h.9V485.5h-.9ZM994.58 476.8h2.3v7.1h-2.3ZM998.12 478.3h.9V518.4h-.9ZM997.42 483.9h2.3v32.1h-2.3ZM1006.62 470.9h.9V503.2h-.9ZM1005.92 485.1h2.3v17.8h-2.3ZM1009.45 501.9h.9V519.6h-.9ZM1008.75 502.9h2.3v9.5h-2.3ZM1015.12 495.8h.9V516.7h-.9ZM1014.42 500.6h2.3v10.7h-2.3ZM1020.78 500.6h.9V510.9h-.9ZM1020.08 505.3h2.3v3.6h-2.3ZM1023.62 508.3h.9V530.3h-.9ZM1022.92 508.9h2.3v19.0h-2.3ZM1032.12 509.3h.9V515.5h-.9ZM1031.42 511.3h2.3v3.6h-2.3ZM1043.45 494.6h.9V503.0h-.9ZM1042.75 495.8h2.3v5.9h-2.3ZM1049.12 499.6h.9V510.1h-.9ZM1048.42 500.6h2.3v5.9h-2.3ZM1063.28 483.9h.9V516.3h-.9ZM1062.58 487.5h2.3v28.5h-2.3ZM1066.12 512.3h.9V564.7h-.9ZM1065.42 516.0h2.3v34.4h-2.3ZM1068.95 548.1h.9V556.4h-.9ZM1068.25 550.5h2.3v3.6h-2.3Z"/>
<!-- red band -->
<rect x="-5" y="331.1" width="1335.8" height="10" fill="#f5dcdf" stroke="#db3d43" stroke-width="1.9"/>
<!-- lines -->
<line x1="301" y1="442.2" x2="1419" y2="442.2" stroke="#de4248" stroke-width="2"/>
<line x1="528" y1="505.3" x2="1524" y2="505.3" stroke="#de4248" stroke-width="2"/>
<line x1="434.4" y1="618.6" x2="1263" y2="618.6" stroke="#579c51" stroke-width="2.1"/>
<line x1="69" y1="827.6" x2="1524" y2="827.6" stroke="#579c51" stroke-width="2.1"/>
<!-- label shapes -->
<g fill="#e24a4f">
<rect x="752" y="288" width="88" height="28" rx="5"/>
<polygon points="755,312 768,316 742.2,334.5"/><circle cx="742.2" cy="334.1" r="2.2"/>
<rect x="1388.6" y="400" width="87.7" height="27.7" rx="5"/>
<polygon points="1391,424 1405,427.7 1378.3,445.4"/><circle cx="1378.3" cy="445" r="2.2"/>
</g>
<g fill="#60a75a">
<rect x="1263.3" y="571.5" width="87.7" height="27.9" rx="5"/>
<polygon points="1266,595 1280,599.4 1253.7,617.5"/><circle cx="1253.7" cy="617.3" r="2.6" stroke="#fff" stroke-width="1"/>
</g>
<circle cx="1236.6" cy="444.6" r="1.7" fill="#000"/>
<circle cx="1046" cy="298.5" r="1.5" fill="#4db6ac"/>
<path d="M1071.5 551.9C1073.2 551.5 1079.4 549.2 1082.1 549.4C1084.9 549.5 1085.8 550.6 1087.8 552.8C1089.7 554.9 1092.1 561.8 1093.9 562.0C1095.8 562.3 1096.7 556.9 1099.0 554.2C1101.2 551.4 1105.0 548.0 1107.4 545.7C1109.9 543.5 1111.5 543.0 1113.6 540.7C1115.7 538.3 1117.8 533.4 1120.1 531.7C1122.3 530.0 1124.7 530.2 1127.1 530.3C1129.4 530.4 1132.0 534.4 1134.1 532.2C1136.2 530.1 1137.6 521.3 1139.7 517.6C1141.8 513.9 1144.4 510.5 1146.7 510.1C1149.1 509.6 1151.4 511.7 1153.8 514.8C1156.1 518.0 1158.7 523.7 1160.8 528.9C1162.9 534.0 1165.0 542.5 1166.4 545.7C1167.8 548.9 1168.2 549.4 1169.2 548.0C1170.2 546.6 1171.4 539.6 1172.6 537.3C1173.8 535.1 1174.9 533.9 1176.2 534.5C1177.5 535.1 1179.0 536.5 1180.4 540.7C1181.9 544.9 1183.3 555.6 1184.7 559.8C1186.1 564.0 1187.2 564.6 1188.9 566.0C1190.5 567.4 1192.6 566.4 1194.5 568.2C1196.4 570.0 1198.2 571.9 1200.1 576.6C1202.0 581.3 1204.1 590.4 1205.7 596.3C1207.4 602.1 1208.8 608.9 1209.9 611.7C1211.1 614.6 1211.6 614.8 1212.8 613.1C1213.9 611.5 1215.3 606.1 1217.0 601.9C1218.6 597.7 1220.7 591.2 1222.6 587.9C1224.5 584.5 1226.3 582.2 1228.2 581.7C1230.1 581.2 1232.2 584.1 1233.8 585.1C1235.5 586.0 1236.6 589.2 1238.0 587.3C1239.4 585.4 1240.6 579.3 1242.2 573.8C1243.9 568.3 1245.5 560.2 1247.9 554.2C1250.2 548.1 1253.5 542.2 1256.3 537.3C1259.1 532.4 1261.8 528.5 1264.7 524.7C1267.6 520.8 1272.2 516.0 1273.7 514.3" fill="none" stroke="#000" stroke-width="3.6" stroke-linecap="round" stroke-linejoin="round"/>
<!-- axes -->
<rect x="0" y="861.3" width="1600" height="1.6" fill="#dcdde1"/>
<rect x="0" y="902.2" width="1600" height="1" fill="#e6e7eb"/>
<rect x="1524" y="0" width="1" height="926" fill="#dcdde0"/>
<!-- price label -->
<rect x="1524.8" y="543.6" width="72.8" height="37.8" rx="2" fill="#e15a56"/>
<rect x="0" y="34" width="228" height="44" fill="#fff"/><rect x="0" y="86" width="77" height="21" fill="#fff"/>
<!-- ETH icon -->
<defs><linearGradient id="eg" x1="0" y1="0" x2="0" y2="1"><stop offset="0" stop-color="#5a64b4"/><stop offset="1" stop-color="#4e4fa0"/></linearGradient></defs>
<circle cx="16.4" cy="16.3" r="10.5" fill="url(#eg)"/>
<polygon points="16.5,9 21.2,17.1 16.5,24 11.6,17.1" fill="#d3d9f6"/>
<polygon points="16.5,9 21.2,17.1 16.5,19.6 11.6,17.1" fill="#dfe4fa"/>
<polygon points="16.5,13.2 19.3,17.1 16.5,20.8 13.7,17.1" fill="#bcc4ee" opacity="0.7"/>
<!-- pill -->
<defs><linearGradient id="pg" x1="0" y1="0" x2="1" y2="0"><stop offset="0" stop-color="#e3f0ec"/><stop offset="0.45" stop-color="#e6eeed"/><stop offset="0.55" stop-color="#efe1f1"/><stop offset="1" stop-color="#f0e1f3"/></linearGradient></defs>
<rect x="360" y="5.6" width="48" height="22.2" rx="11.1" fill="url(#pg)"/>
<circle cx="372.3" cy="16.1" r="4.6" fill="#3f9a78"/>
<path d="M388 16.2L397.4 11.2L397.4 21.4Z" stroke="#aa4bc8" stroke-width="1.7" fill="none" stroke-linejoin="round"/>
<circle cx="388" cy="16.2" r="2.3" fill="#aa4bc8"/><circle cx="397.4" cy="11.2" r="2.3" fill="#aa4bc8"/><circle cx="397.4" cy="21.4" r="2.3" fill="#aa4bc8"/>
<!-- eye slash -->
<g stroke="#131722" stroke-width="1.3" fill="none" stroke-linecap="round">
<path d="M82.4 96.4C85 91.6 88 89.9 91.5 89.9C95 89.9 98 91.6 100.8 96.4C98 101.4 95 103.1 91.5 103.1C88 103.1 85 101.4 82.4 96.4Z"/>
<circle cx="91.5" cy="96.5" r="2.7"/>
<path d="M86.3 104.1L99.8 90.6" stroke="#fff" stroke-width="1.6"/><path d="M85.1 102.9L98.6 89.4" stroke-width="1.5"/>
</g>
<!-- collapse btn -->
<rect x="5.5" y="116" width="33.5" height="22" rx="4" fill="#fff" stroke="#e3e5ea" stroke-width="1"/>
<path d="M17.8 129.2L22 125L26.2 129.2" fill="none" stroke="#131722" stroke-width="1.5"/>
<!-- USD btn -->
<rect x="1529.5" y="2.8" width="69" height="27.4" rx="4" fill="#fff" stroke="#f1f2f4" stroke-width="1"/>
<path d="M1587.3 15.6L1590.5 18.5L1593.7 15.6" fill="none" stroke="#131722" stroke-width="1.25"/>
<!-- gear hex -->
<g fill="none" stroke="#131722" stroke-width="1.2"><path d="M1560 913h8.6l4.3 6.8l-4.3 6.8h-8.6l-4.3-6.8z"/><circle cx="1564.3" cy="919.8" r="2.6"/></g>
<!-- MACD icon -->
<circle cx="66" cy="882.2" r="10.5" fill="#ece6fc"/>
<g fill="none" stroke="#5a3ee6" stroke-width="1.8" stroke-linecap="round"><path d="M60.2 880.5A6 6 0 0 1 71.2 879"/><path d="M71.8 883.5A6 6 0 0 1 60.8 885"/></g>
<path d="M72.8 875.8v4.4h-4.4z M59.2 888.2v-4.4h4.4z" fill="#5a3ee6"/>
<!-- bottom icons -->
<g fill="none" stroke="#9a2bc4" stroke-width="1.5" stroke-linecap="round"><path d="M1060.5 840A11.4 11.4 0 0 1 1073 834.2"/><path d="M1080.8 842.5A11.4 11.4 0 0 1 1062 853.8"/></g>
<path d="M1073 837.8l-7.5 8h5l-3.6 6.6l8.6-9h-5.2z" fill="#9a2bc4"/>
<circle cx="1077.8" cy="836.7" r="3" fill="#e0453e"/>
<path d="M1056.4 844.2c0.8 3.6 1.8 4.6 5.4 5.4c-3.6 0.8-4.6 1.8-5.4 5.4c-0.8-3.6-1.8-4.6-5.4-5.4c3.6-0.8 4.6-1.8 5.4-5.4z" fill="#6b5cf5"/>
<g>
<circle cx="1125.7" cy="845.3" r="12.3" fill="#fff" stroke="#d83c3c" stroke-width="1.6"/>
<clipPath id="fc"><circle cx="1125.7" cy="845.3" r="9.3"/></clipPath>
<g clip-path="url(#fc)">
<rect x="1116" y="836" width="20" height="19" fill="#fff"/>
<rect x="1116" y="836" width="20" height="2.7" fill="#e0554d"/><rect x="1116" y="841.3" width="20" height="2.7" fill="#e0554d"/><rect x="1116" y="846.6" width="20" height="2.7" fill="#fff"/><rect x="1116" y="851.3" width="20" height="4" fill="#e0554d"/><rect x="1127.5" y="843.8" width="9" height="3" fill="#e0554d"/>
<rect x="1116" y="836" width="11.6" height="11" fill="#3f7fe0"/>
<g fill="#e8f1ff"><rect x="1118.2" y="838" width="1.8" height="1.8"/><rect x="1121.2" y="838" width="1.8" height="1.8"/><rect x="1124.2" y="838" width="1.8" height="1.8"/><rect x="1118.2" y="841" width="1.8" height="1.8"/><rect x="1121.2" y="841" width="1.8" height="1.8"/><rect x="1124.2" y="841" width="1.8" height="1.8"/><rect x="1118.2" y="844" width="1.8" height="1.8"/><rect x="1121.2" y="844" width="1.8" height="1.8"/><rect x="1124.2" y="844" width="1.8" height="1.8"/></g>
</g></g>
<!-- TradingView mark -->
<g fill="#131722" stroke="#fff" stroke-width="6" paint-order="stroke" stroke-linejoin="round">
<path d="M9.8 826.8h14.3v16.5h-7.5v-9.3h-6.8z"/>
<circle cx="29.3" cy="829.5" r="2.7"/>
<path d="M34.8 826.8h10.2l-5.7 16.5h-8.6z"/>
</g>
</svg>
<!-- header texts -->
<div class="abs" id="title" style="left:33.3px;top:5.7px;font-size:18.6px;line-height:22px;letter-spacing:0.24px;color:#131722;">Ethereum / U.S. Dollar · 4h · Binance</div>
<div class="abs" id="ohlc" style="left:417.5px;top:7px;font-size:15px;line-height:18px;letter-spacing:0.47px;color:#e0564a;"><span style="color:#131722">O</span>3,210.81 <span style="color:#131722;margin-left:1px">H</span>3,217.24 <span style="color:#131722;margin-left:1px">L</span>3,196.43 <span style="color:#131722;margin-left:1px">C</span>3,202.23</div>
<div class="btn" style="left:5.2px;border:1px solid #e9807f;color:#d93a36;"><div class="p">3,202.23</div><div class="s">SELL</div></div>
<div class="abs" style="left:102.5px;top:48px;font-family:'Liberation Serif',serif;font-size:13px;line-height:16px;color:#131722;">0.00</div>
<div class="btn" style="left:135.8px;border:1px solid #7d8bd8;color:#2f55e0;"><div class="p">3,202.23</div><div class="s">BUY</div></div>
<div class="abs" style="left:6.3px;top:86.9px;font-size:15px;line-height:17px;letter-spacing:-0.03px;color:#adb0b8;">Vol · ETH</div>
<div class="abs" style="left:1533.4px;top:8.6px;font-size:13.6px;line-height:16px;letter-spacing:-1.15px;color:#131722;">USD</div>
<div class="pl" style="top:36.9px">4,300.00</div><div class="pl" style="top:83.2px">4,200.00</div><div class="pl" style="top:129.4px">4,100.00</div><div class="pl" style="top:175.7px">4,000.00</div><div class="pl" style="top:221.9px">3,900.00</div><div class="pl" style="top:268.1px">3,800.00</div><div class="pl" style="top:314.4px">3,700.00</div><div class="pl" style="top:360.6px">3,600.00</div><div class="pl" style="top:406.9px">3,500.00</div><div class="pl" style="top:453.1px">3,400.00</div><div class="pl" style="top:499.4px">3,300.00</div><div class="pl" style="top:591.9px">3,100.00</div><div class="pl" style="top:638.1px">3,000.00</div><div class="pl" style="top:684.4px">2,900.00</div><div class="pl" style="top:730.6px">2,800.00</div><div class="pl" style="top:776.9px">2,700.00</div><div class="pl" style="top:823.1px">2,600.00</div>
<div class="abs" style="left:1535.2px;top:545.5px;font-size:14.3px;line-height:16px;letter-spacing:-0.05px;color:#fff;font-weight:bold;">3,202.23</div>
<div class="abs" style="left:1535.2px;top:561.8px;font-size:14.3px;line-height:16px;letter-spacing:0.1px;color:#fff;">02:06:44</div>
<div class="tl" style="left:30.7px">21</div><div class="tl" style="left:98.7px">25</div><div class="tl" style="left:200.7px">Dec</div><div class="tl" style="left:269.7px">5</div><div class="tl" style="left:337.7px">9</div><div class="tl" style="left:405.7px">13</div><div class="tl" style="left:473.7px">17</div><div class="tl" style="left:541.7px">21</div><div class="tl" style="left:609.7px">25</div><div class="tl" style="left:729.7px;font-weight:bold">2026</div><div class="tl" style="left:797.7px">5</div><div class="tl" style="left:865.7px">9</div><div class="tl" style="left:933.7px">13</div><div class="tl" style="left:1001.7px">17</div><div class="tl" style="left:1069.7px">21</div><div class="tl" style="left:1137.7px">25</div><div class="tl" style="left:1257.7px">Feb</div><div class="tl" style="left:1325.7px">5</div><div class="tl" style="left:1394.7px">9</div><div class="tl" style="left:1462.7px">13</div>
<!-- annotation labels -->
<div class="lbl" style="left:752px;top:295px;width:88px;">3,677.41</div>
<div class="lbl" style="left:1388.6px;top:406.5px;width:87.7px;">3,436.76</div>
<div class="lbl" style="left:1263.3px;top:579px;width:87.7px;">3,065.43</div>
<!-- TradingView text -->
<div class="abs" id="tv" style="left:54.6px;top:822px;font-size:23.5px;line-height:28px;font-weight:bold;letter-spacing:0.72px;color:#131722;-webkit-text-stroke:6px #fff;paint-order:stroke fill;">TradingView</div>
<div class="abs" style="left:54.6px;top:822px;font-size:23.5px;line-height:28px;font-weight:bold;letter-spacing:0.72px;color:#131722;">TradingView</div>
<!-- MACD -->
<div class="abs" style="left:5.7px;top:875.2px;font-size:13.6px;line-height:16px;letter-spacing:-0.25px;color:#131722;">MACD</div>
<div class="abs" style="left:87px;top:875px;font-size:13.7px;line-height:16px;letter-spacing:0.62px;color:#e0524a;">−15.06</div>
<div class="abs" style="left:141.7px;top:875px;font-size:13.7px;line-height:16px;letter-spacing:0.62px;color:#2f5fe8;">−0.50</div>
<div class="abs" style="left:188.2px;top:875px;font-size:13.7px;line-height:16px;letter-spacing:0.62px;color:#ea7a26;">14.55</div>
</body></html>
